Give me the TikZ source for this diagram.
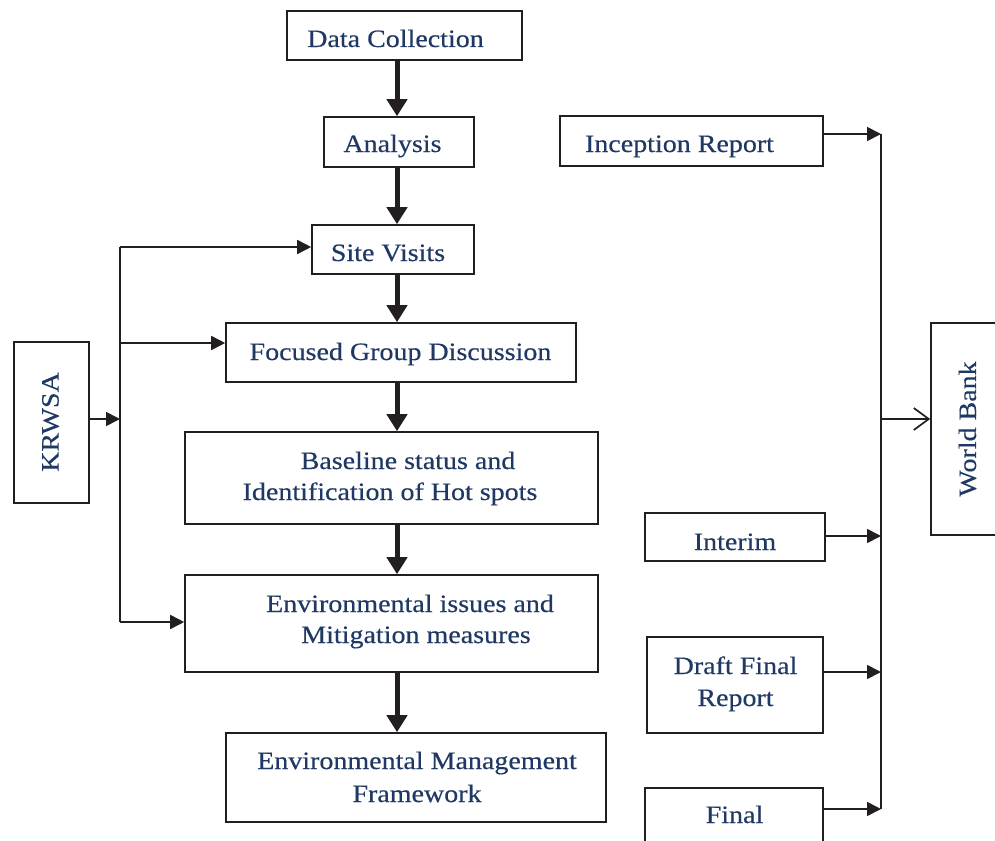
\documentclass[tikz,border=0pt]{standalone}
\usepackage{fontspec}
\setmainfont[FakeStretch=1.12,FakeBold=0.4]{Liberation Serif}
\usetikzlibrary{arrows.meta}
\definecolor{txt}{HTML}{1F3864}
\definecolor{ln}{HTML}{231F20}
\begin{document}
\begin{tikzpicture}[x=1pt,y=-1pt,
  box/.style={draw=ln,line width=1.6pt,inner sep=0pt},
  lbl/.style={text=txt,font=\fontsize{25}{31}\selectfont,inner sep=0pt,anchor=base},
  vlbl/.style={text=txt,font=\fontsize{25}{31}\selectfont,inner sep=0pt,anchor=center,rotate=90},
  thinline/.style={draw=ln,line width=1.7pt},
  thinarrow/.style={thinline,-{Triangle[length=14pt,width=14pt]}},
  flow/.style={draw=ln,line width=5pt,-{Triangle[length=17pt,width=20pt]}},
  openarrow/.style={thinline,-{Straight Barb[length=15pt,width=22pt,line width=1.7pt]}}]
\useasboundingbox (0,0) rectangle (995,840);

% boxes
\node[box,minimum width=235pt,minimum height=49pt] (dc) at (404.5,35.5) {};
\node[box,minimum width=150pt,minimum height=50pt] (an) at (399,142) {};
\node[box,minimum width=162pt,minimum height=49pt] (sv) at (393,249.5) {};
\node[box,minimum width=350pt,minimum height=59pt] (fgd) at (401,352.5) {};
\node[box,minimum width=413pt,minimum height=92pt] (bs) at (391.5,478) {};
\node[box,minimum width=413pt,minimum height=97pt] (ei) at (391.5,623.5) {};
\node[box,minimum width=380pt,minimum height=89pt] (emf) at (416,777.5) {};
\node[box,minimum width=75pt,minimum height=161pt] (kr) at (51.5,422.5) {};
\node[box,minimum width=263pt,minimum height=50pt] (ir) at (691.5,141) {};
\node[box,minimum width=180pt,minimum height=48pt] (im) at (735,537) {};
\node[box,minimum width=176pt,minimum height=96pt] (df) at (735,685) {};
\node[box,minimum width=178pt,minimum height=60pt] (fi) at (734,818) {};
\node[box,minimum width=88pt,minimum height=212pt] (wb) at (975,429) {};

% texts
\node[lbl] (dct) at (395.5,47) {Data Collection};
\node[lbl] (ant) at (392.5,152) {Analysis};
\node[lbl] (svt) at (388,261) {Site Visits};
\node[lbl] (irt) at (679.5,152) {Inception Report};
\node[lbl] (fgdt) at (400.5,360) {Focused Group Discussion};
\node[lbl] (bs1) at (408,469) {Baseline status and};
\node[lbl] (bs2) at (390,500) {Identification of Hot spots};
\node[lbl] (ei1) at (410,612) {Environmental issues and};
\node[lbl] (ei2) at (416,643) {Mitigation measures};
\node[lbl] (emf1) at (417,769) {Environmental Management};
\node[lbl] (emf2) at (417,802) {Framework};
\node[lbl] (imt) at (735,550) {Interim};
\node[lbl] (df1) at (735.5,674) {Draft Final};
\node[lbl] (df2) at (735.5,706) {Report};
\node[lbl] (fit) at (734.5,823) {Final};
\node[vlbl] (krt) at (50.5,422) {KRWSA};
\node[vlbl] (wbt) at (967.5,429) {World Bank};

% main flow
\coordinate (ax) at (397,0);
\draw[flow] (dc.south -| ax) -- (an.north -| ax);
\draw[flow] (an.south -| ax) -- (sv.north -| ax);
\draw[flow] (sv.south -| ax) -- (fgd.north -| ax);
\draw[flow] (fgd.south -| ax) -- (bs.north -| ax);
\draw[flow] (bs.south -| ax) -- (ei.north -| ax);
\draw[flow] (ei.south -| ax) -- (emf.north -| ax);

% left distribution
\coordinate (lt) at (120,247);
\coordinate (lm) at (120,419);
\coordinate (lf) at (120,343);
\coordinate (lb) at (120,622);
\draw[thinline] (lt) -- (lb);
\draw[thinarrow] (kr.east |- lm) -- (lm);
\draw[thinarrow] (lt) -- (lt -| sv.west);
\draw[thinarrow] (lf) -- (lf -| fgd.west);
\draw[thinarrow] (lb) -- (lb -| ei.west);

% right collection
\coordinate (rt) at (881,134);
\coordinate (rb) at (881,809);
\coordinate (rw) at (881,419);
\coordinate (rd) at (881,672);
\coordinate (ri) at (881,536);
\draw[thinline] (rt) -- (rb);
\draw[thinarrow] (ir.east |- rt) -- (rt);
\draw[thinarrow] (im.east |- ri) -- (ri);
\draw[thinarrow] (df.east |- rd) -- (rd);
\draw[thinarrow] (fi.east |- rb) -- (rb);
\draw[openarrow] (rw) -- (rw -| wb.west);
\end{tikzpicture}
\end{document}
